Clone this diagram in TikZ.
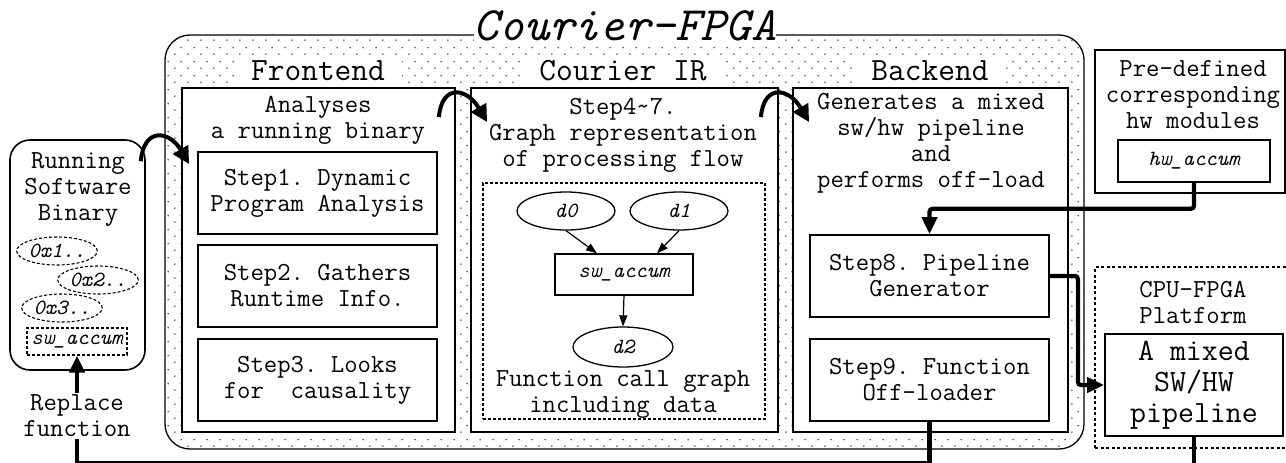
\documentclass[tikz,border=0pt]{standalone}
\renewcommand{\familydefault}{\ttdefault}
\usetikzlibrary{arrows.meta,shapes.geometric,patterns,calc}
\pgfdeclarepatternformonly{cdots}{\pgfqpoint{0pt}{0pt}}{\pgfqpoint{13.3pt}{14pt}}{\pgfqpoint{13.3pt}{14pt}}{%
  \pgfpathcircle{\pgfqpoint{3pt}{3pt}}{0.95pt}%
  \pgfpathcircle{\pgfqpoint{9.65pt}{10pt}}{0.95pt}%
  \pgfusepath{fill}}
\frenchspacing
\begin{document}
\begin{tikzpicture}[x=1pt,y=-1pt,
  txt/.style={font=\fontsize{26pt}{26pt}\selectfont, align=center, inner sep=0pt},
  lbl/.style={fill=white, font=\fontsize{32.5pt}{32.5pt}\selectfont, inner xsep=17pt, inner ysep=6pt},
  small/.style={font=\itshape\fontsize{21.7pt}{21.7pt}\selectfont},
  panel/.style={draw, line width=1.8pt, fill=white, inner sep=0pt, minimum height=344pt},
  stepbox/.style={draw, line width=1.8pt, fill=white, inner sep=0pt, minimum width=239pt, minimum height=82pt,
    font=\fontsize{26pt}{26pt}\selectfont, align=center},
  dell/.style={ellipse, draw, dash pattern=on 3pt off 2pt, line width=1.1pt, inner sep=0pt,
    minimum width=74pt, minimum height=28pt, small},
  gell/.style={ellipse, draw, line width=1.3pt, inner sep=0pt, minimum width=98pt, minimum height=38pt, small},
  bigarrow/.style={line width=4.2pt, -{Triangle[length=17pt,width=15pt]}},
  curvarrow/.style={line width=4pt, -{Triangle[length=17pt,width=17pt]}},
  thinarrow/.style={line width=1.2pt, -{Triangle[length=11pt,width=8pt]}}
]
\useasboundingbox (0,0) rectangle (1286,463);

% outer Courier-FPGA box
\node[draw, line width=1.3pt, rounded corners=25pt, pattern=cdots, pattern color=black!70,
  minimum width=919pt, minimum height=414pt, inner sep=0pt] (cf) at (624.5,242) {};
\node[fill=white, inner sep=0pt, anchor=base, font=\itshape\fontsize{48pt}{48pt}\selectfont] (title) at (625,40) {Courier-FPGA};

% section labels
\node[lbl] (felbl) at (318,71) {Frontend};
\node[lbl] (irlbl) at (623,71) {Courier IR};
\node[lbl] (belbl) at (930,71) {Backend};

% panels
\node[panel, minimum width=273pt] (fe) at (318.5,260) {};
\node[panel, minimum width=307pt] (ir) at (624.5,260) {};
\node[panel, minimum width=275pt] (be) at (930.5,260) {};

% frontend content
\node[txt] (fetxt) at (318,120) {Analyses\\a running binary};
\node[stepbox] (s1) at (317.5,193) {Step1. Dynamic\\Program Analysis};
\node[stepbox] (s2) at (317.5,286) {Step2. Gathers\\Runtime Info.};
\node[stepbox] (s3) at (317.5,380) {Step3. Looks\\for\ \ causality};

% IR content
\node[txt] (irtxt) at (623,135) {Step4\textasciitilde 7.\\Graph representation\\of processing flow};
\node[draw, dash pattern=on 3pt off 2pt, line width=1.3pt, minimum width=282pt, minimum height=236pt, inner sep=0pt] (cg) at (624,301) {};
\node[gell] (d0) at (566,211) {d0};
\node[gell] (d1) at (679,211) {d1};
\node[draw, line width=1.3pt, minimum width=138pt, minimum height=41pt, inner sep=0pt, small] (sw) at (624,274.5) {sw\_accum};
\node[gell, minimum width=100pt, minimum height=40pt] (d2) at (623,347) {d2};
\draw[thinarrow] (d0.south) -- ($(sw.north)+(-27,0)$);
\draw[thinarrow] (d1.south) -- ($(sw.north)+(33,0)$);
\draw[thinarrow] (sw.south) -- (d2.north);
\node[txt] (cgtxt) at (623,395) {Function call graph\\including data};

% backend content
\node[txt] (betxt) at (931,143) {Generates a mixed\\sw/hw pipeline\\and\\performs off-load};
\node[stepbox] (s8) at (929.5,276) {Step8. Pipeline\\Generator};
\node[stepbox] (s9) at (929.5,380) {Step9. Function\\Off-loader};

% running software binary
\node[draw, line width=1.6pt, rounded corners=20pt, minimum width=135pt, minimum height=230pt, inner sep=0pt] (run) at (77.5,255) {};
\node[txt] (runtxt) at (78,190) {Running\\Software\\Binary};
\node[dell] (e1) at (57,251) {0x1..};
\node[dell] (e2) at (98,280) {0x2..};
\node[dell] (e3) at (62,308) {0x3..};
\node[draw, dash pattern=on 3pt off 2pt, line width=1.2pt, minimum width=100pt, minimum height=27pt, inner sep=0pt, small] (swa) at (77,341.5) {sw\_accum};

% predefined hw modules
\node[draw, line width=1.5pt, minimum width=190pt, minimum height=143pt, inner sep=0pt] (pd) at (1190,121.5) {};
\node[txt] (pdtxt) at (1193,95) {Pre-defined\\corresponding\\hw modules};
\node[draw, line width=1.5pt, minimum width=152pt, minimum height=42pt, inner sep=0pt, small] (hw) at (1194,161) {hw\_accum};

% platform
\node[draw, dash pattern=on 3pt off 2.5pt, line width=1.3pt, minimum width=200pt, minimum height=181pt, inner sep=0pt] (plat) at (1195,357.5) {};
\node[txt] (plattxt) at (1193,302) {CPU-FPGA\\Platform};
\node[draw, line width=1.8pt, fill=white, minimum width=178pt, minimum height=102pt, inner sep=0pt,
  font=\fontsize{31pt}{31pt}\selectfont, align=center] (mx) at (1194,385) {A mixed\\SW/HW\\pipeline};

% curved arrows
\draw[curvarrow] ($(run.north east)+(-5,22)$) .. controls +(3,-34) and +(-20,-34) .. ($(fe.north west)+(8,77)$);
\draw[curvarrow] ($(fe.north east)+(-17,30)$) .. controls +(3,-34) and +(-20,-34) .. ($(ir.north west)+(17,35)$);
\draw[curvarrow] ($(ir.north east)+(-18,30)$) .. controls +(3,-34) and +(-20,-34) .. ($(be.north west)+(17,35)$);

% thick connectors
\draw[bigarrow, rounded corners=3pt] (hw.south) -- ++(0,26) -| (s8.north);
\draw[bigarrow, rounded corners=3pt] (s8.east) -- ++(28,0) |- (mx.west);
\coordinate (bot) at (77,463.5);
\draw[line width=4.2pt] (mx.south) -- (mx.south |- bot);
\draw[bigarrow] (s9.south) |- (bot) -- (swa.south);
\node[txt, fill=white, inner sep=2pt] (rep) at (77,416) {Replace\\function};
\end{tikzpicture}
\end{document}
